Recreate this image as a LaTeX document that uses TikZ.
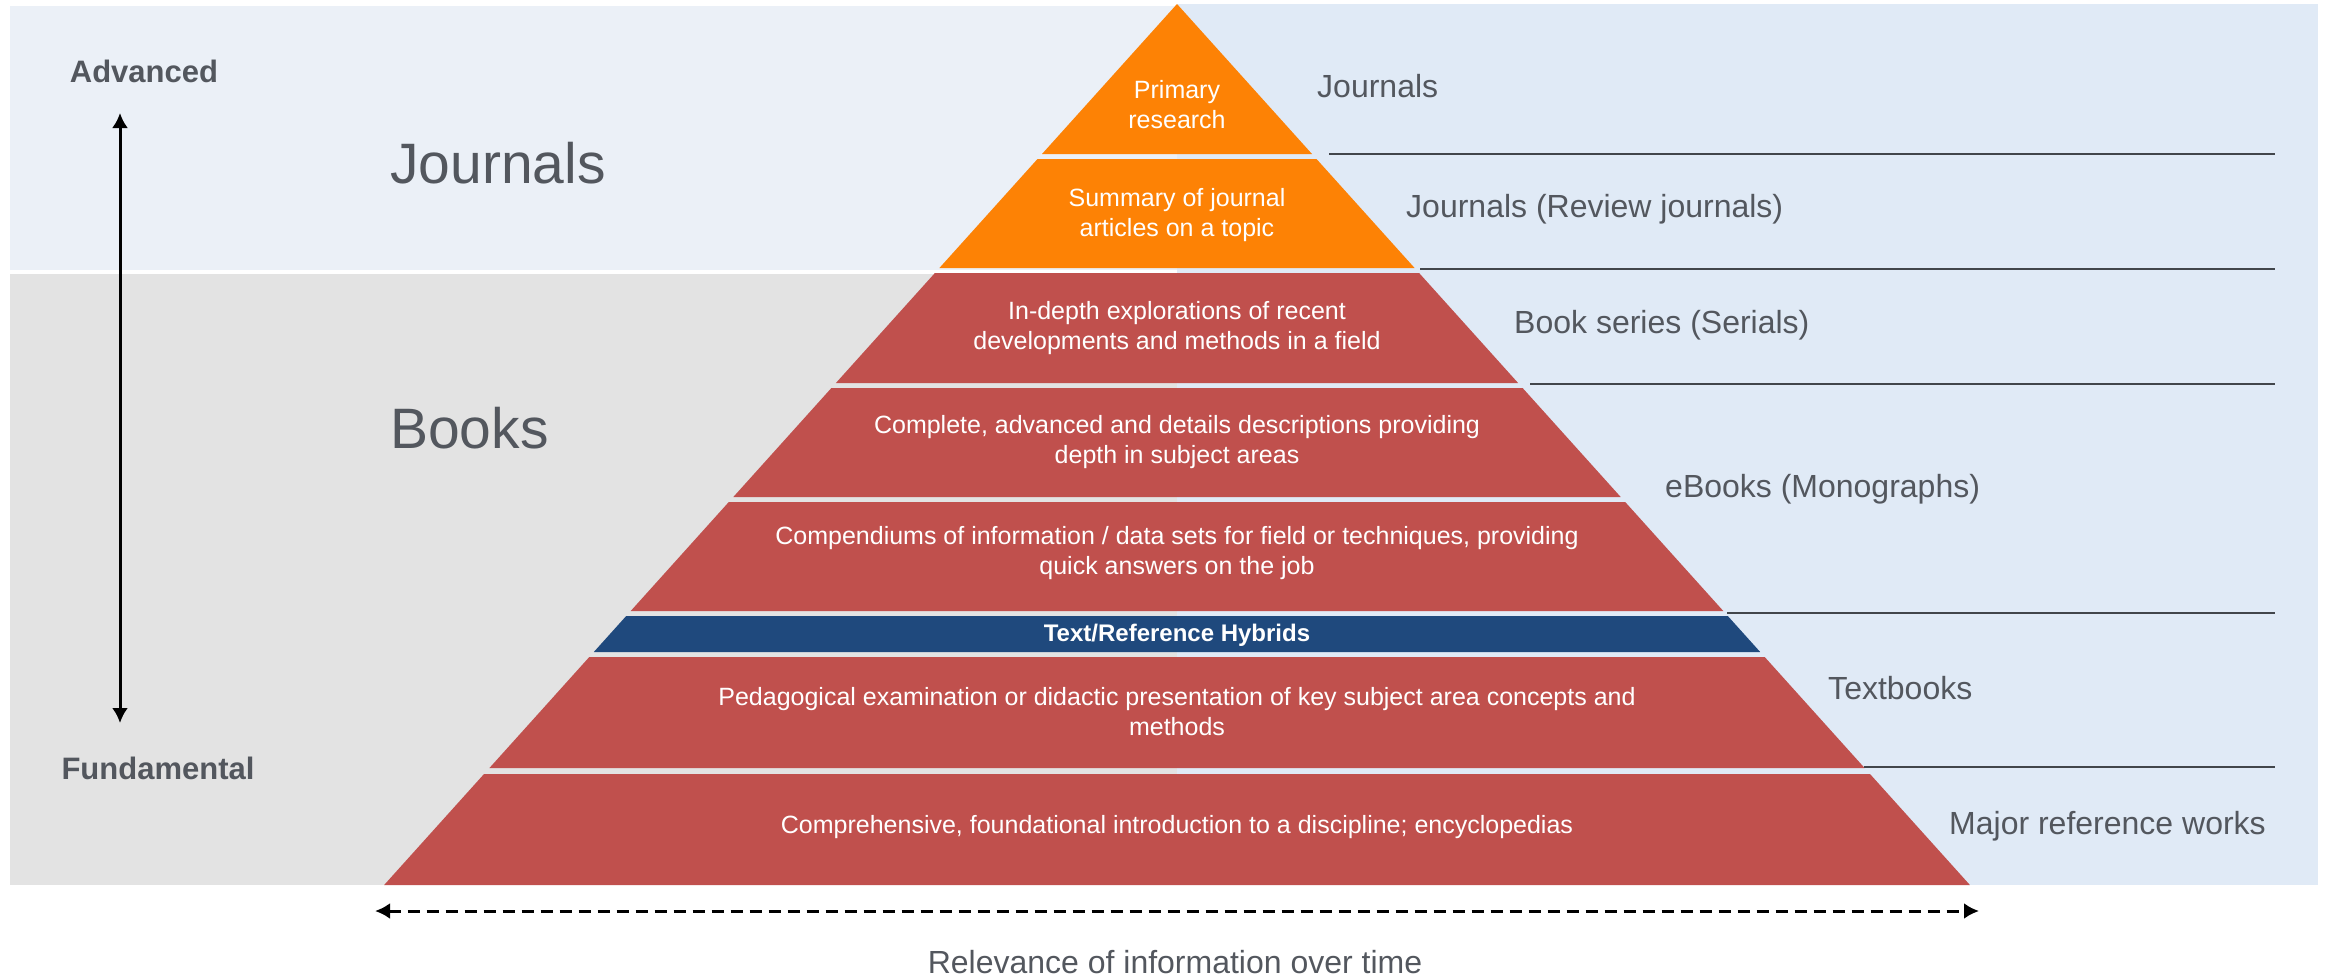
\documentclass[tikz,border=0pt]{standalone}
\usepackage{fontspec}
\setmainfont{Liberation Sans}
\usetikzlibrary{arrows.meta}
\definecolor{topband}{RGB}{235,240,247}
\definecolor{lowband}{RGB}{227,227,227}
\definecolor{rightpanel}{RGB}{224,234,246}
\definecolor{labelgrey}{RGB}{83,87,94}
\definecolor{layerorange}{RGB}{253,130,5}
\definecolor{layerred}{RGB}{192,80,77}
\definecolor{layerblue}{RGB}{31,73,125}
\begin{document}
\begin{tikzpicture}[x=1pt,y=-1pt,inner sep=0pt,
        layertext/.style={text=white,align=center,font=\fontsize{25}{30}\selectfont},
        sidelabel/.style={anchor=west,text=labelgrey,font=\fontsize{32}{38}\selectfont},
        bigsign/.style={anchor=west,text=labelgrey,font=\fontsize{57}{68}\selectfont},
        levellabel/.style={text=labelgrey,font=\bfseries\fontsize{31}{37}\selectfont},
        divider/.style={draw=labelgrey!80!black,line width=2pt}]
    \useasboundingbox (0,0) rectangle (2325,978);
    \fill[topband] (10,6) rectangle (1177,270);
    \fill[lowband] (10,274) rectangle (1177,885);
    \fill[rightpanel] (1177,4) rectangle (2318,885);
    % layers of the pyramid: top, bottom, colour
    \foreach \ya/\yb/\col in {4/154/layerorange, 159/268/layerorange, 273/383/layerred,
            388/497/layerred, 502/611/layerred, 616/652/layerblue, 657/768/layerred, 774/885/layerred}
        \fill[\col] ({1177-0.9*(\ya-4)},\ya) -- ({1177+0.9*(\ya-4)},\ya)
            -- ({1177+0.9*(\yb-4)},\yb) -- ({1177-0.9*(\yb-4)},\yb) -- cycle;
    \foreach \ya/\xa in {154/1329, 269/1420, 384/1530, 613/1727, 767/1864}
        \draw[divider] (\xa,\ya) -- (2275,\ya);

    \node[layertext] (primary) at (1177,105) {Primary\\research};
    \node[layertext] (summary) at (1177,215) {Summary of journal\\articles on a topic};
    \node[layertext] (indepth) at (1177,328) {In-depth explorations of recent\\developments and methods in a field};
    \node[layertext] (complete) at (1177,442) {Complete, advanced and details descriptions providing\\depth in subject areas};
    \node[layertext] (compendium) at (1177,553) {Compendiums of information / data sets for field or techniques, providing\\quick answers on the job};
    \node[layertext,font=\bfseries\fontsize{24}{29}\selectfont] (hybrid) at (1177,635) {Text/Reference Hybrids};
    \node[layertext] (pedagogy) at (1177,712) {Pedagogical examination or didactic presentation of key subject area concepts and\\methods};
    \node[layertext] (reference) at (1177,827) {Comprehensive, foundational introduction to a discipline; encyclopedias};

    \node[sidelabel] (jnl) at (1317,86) {Journals};
    \node[sidelabel] (review) at (1406,209) {Journals (Review journals)};
    \node[sidelabel] (serials) at (1514,325) {Book series (Serials)};
    \node[sidelabel] (ebooks) at (1665,489) {eBooks (Monographs)};
    \node[sidelabel] (textbooks) at (1828,688) {Textbooks};
    \node[sidelabel] (major) at (1949,826) {Major reference works};

    \node[bigsign] (journals) at (390,163) {Journals};
    \node[bigsign] (books) at (390,428) {Books};
    \node[levellabel] (advanced) at (144,71) {Advanced};
    \node[levellabel] (fundamental) at (158,768) {Fundamental};

    \coordinate (upper) at (120,113);
    \coordinate (lower) at (120,723);
    \draw[{Latex[length=15pt,width=16pt]}-{Latex[length=15pt,width=16pt]},line width=3pt] (upper) -- (lower);
    \coordinate (older) at (375,911);
    \coordinate (newer) at (1979,911);
    \draw[{Latex[length=15pt,width=16pt]}-{Latex[length=15pt,width=16pt]},line width=3pt,
        dash pattern=on 12pt off 7pt] (older) -- (newer);
    \node[text=labelgrey,font=\fontsize{32}{38}\selectfont] (relevance) at (1175,962) {Relevance of information over time};
\end{tikzpicture}
\end{document}
